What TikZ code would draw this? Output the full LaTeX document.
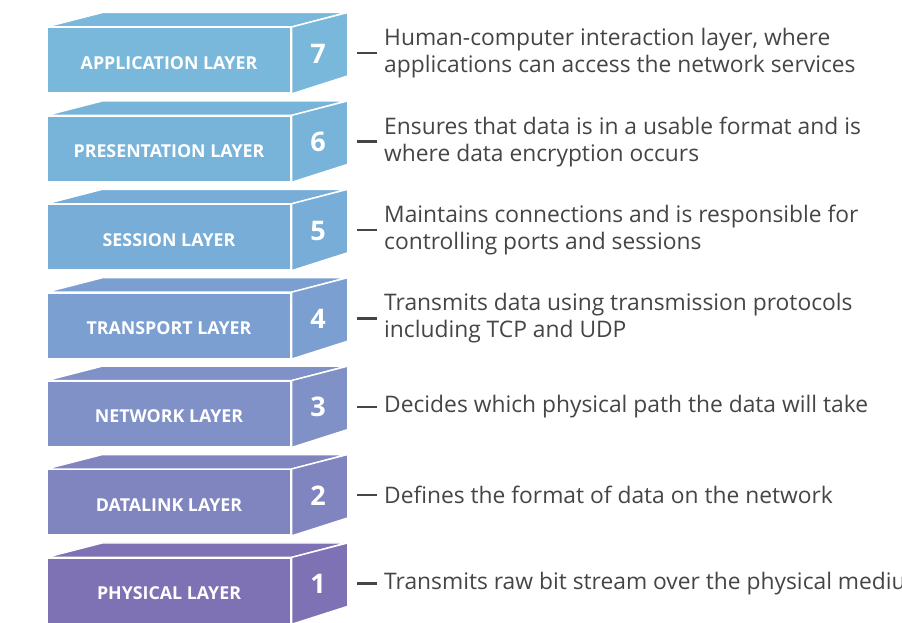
\documentclass[tikz,border=0pt]{standalone}
\usepackage{fontspec}
\setmainfont{Open Sans}
\definecolor{lay7}{HTML}{7AB8DB}
\definecolor{lay6}{HTML}{78B4DA}
\definecolor{lay5}{HTML}{77ADD6}
\definecolor{lay4}{HTML}{7B9FD0}
\definecolor{lay3}{HTML}{7F91C6}
\definecolor{lay2}{HTML}{8085C0}
\definecolor{lay1}{HTML}{7E72B4}
\definecolor{txtgrey}{HTML}{454545}
\tikzset{
  front/.style={draw=white, line width=1.4pt, minimum width=244pt, minimum height=65.5pt,
    text=white, font=\fontsize{17.8}{20}\selectfont\bfseries},
  face/.style={draw=white, line width=1.4pt, line join=round},
  number/.style={text=white, font=\fontsize{27}{30}\selectfont\bfseries},
  desc/.style={anchor=west, inner sep=0pt, align=left, text=txtgrey,
    font=\fontsize{22.8}{27}\selectfont},
  dashline/.style={txtgrey, line width=2.4pt}
}
\begin{document}
\begin{tikzpicture}[x=1pt,y=-1pt]
            \useasboundingbox (0,0) rectangle (902,623);
            \def\dx{56}
            \def\dy{-14.4}
            \foreach \n/\c/\lab/\txt [count=\k from 0] in {
              7/lay7/APPLICATION LAYER/{Human-computer interaction layer, where\\applications can access the network services},
              6/lay6/PRESENTATION LAYER/{Ensures that data is in a usable format and is\\where data encryption occurs},
              5/lay5/SESSION LAYER/{Maintains connections and is responsible for\\controlling ports and sessions},
              4/lay4/TRANSPORT LAYER/{Transmits data using transmission protocols\\including TCP and UDP},
              3/lay3/NETWORK LAYER/{Decides which physical path the data will take},
              2/lay2/DATALINK LAYER/{Defines the format of data on the network},
              1/lay1/PHYSICAL LAYER/{Transmits raw bit stream over the physical medium}}
            {
              \pgfmathsetmacro\yt{27.7+88.4*\k}
              \node[front, fill=\c] (front\n) at (169,\yt+32.7) {};
              % top and side faces
              \draw[face, fill=\c] (front\n.north west) -- ++(\dx,\dy) -- ++(244,0) -- (front\n.north east) -- cycle;
              \draw[face, fill=\c] (front\n.north east) -- ++(\dx,\dy) -- ++(0,63.4) -- (front\n.south east) -- cycle;
              \node[front, draw=none, minimum height=0pt] (lab\n) at (169,\yt+35.3) {\lab};
              \node[number] (num\n) at (318,\yt+26) {\n};
              \node[desc] (desc\n) at (384,\yt+25.5) {\txt};
              \draw[dashline] ([xshift=-7pt]desc\n.west) -- ([xshift=-27pt]desc\n.west);
            }
\end{tikzpicture}
\end{document}
